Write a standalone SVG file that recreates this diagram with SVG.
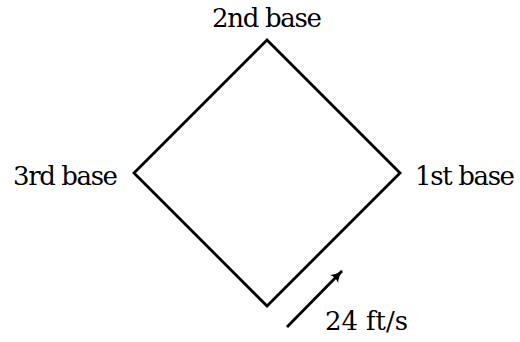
<svg xmlns="http://www.w3.org/2000/svg" width="520" height="342" viewBox="0 0 520 342">
<style>
text{font-family:'DejaVu Serif',serif;font-size:26px;fill:#000}
.ln{fill:none;stroke:#000;stroke-width:2.8;stroke-linejoin:miter}
</style>
<defs>
<marker id="ah" viewBox="0 0 10 10" refX="9" refY="5" markerWidth="4.5" markerHeight="4.5" orient="auto" markerUnits="strokeWidth">
<path d="M0,0.5 Q4,4 10,5 Q4,6 0,9.5 Q2,5 0,0.5Z" fill="#000"/>
</marker>
</defs>
<rect width="520" height="342" fill="#fff"/>
<g id="diamond">
<path class="ln" d="M267,40 L400,173 L267,306 L134,173 Z"/>
</g>
<g id="second"><text x="212" y="27" textLength="110">2nd base</text></g>
<g id="third"><text x="13" y="185" textLength="105">3rd base</text></g>
<g id="first"><text x="415" y="185" textLength="100">1st base</text></g>
<g id="connectors">
<line class="ln" x1="287" y1="327" x2="342" y2="271" marker-end="url(#ah)"/>
<text x="325" y="330" textLength="83">24 ft/s</text>
</g>
</svg>
